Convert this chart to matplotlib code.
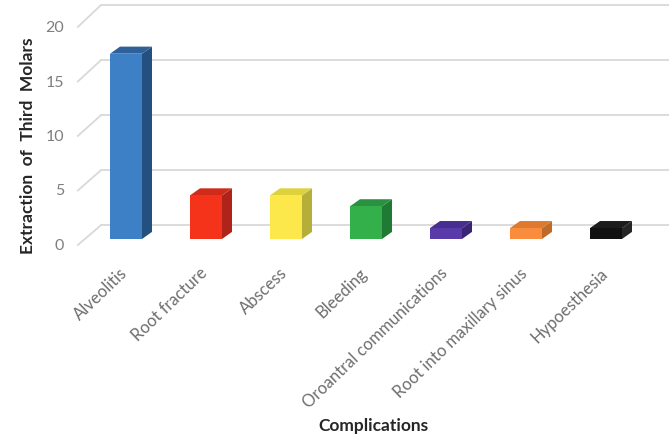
"""
3D-style column chart: complications after third molar extraction.
"""
import matplotlib
matplotlib.use("Agg")
import matplotlib.pyplot as plt
from matplotlib.patches import Polygon, Rectangle

categories = ["Alveolitis", "Root fracture", "Abscess", "Bleeding",
              "Oroantral communications", "Root into maxillary sinus",
              "Hypoesthesia"]
counts = [17, 4, 4, 3, 1, 1, 1]
yticks = [0, 5, 10, 15, 20]

front_colors = ["#3d80c6", "#f5321a", "#fde84c", "#34b04b", "#5a3aa8", "#fa8c3e", "#111111"]
top_colors = ["#2f6098", "#cf2b18", "#ddd23c", "#2a9140", "#482e8e", "#de7a30", "#1c1c1c"]
side_colors = ["#24507f", "#b0231a", "#b5ae38", "#1f7a33", "#3a2473", "#c06a2a", "#262626"]

plt.rcParams["font.family"] = ["Lato", "DejaVu Sans"]

fig = plt.figure(figsize=(6.69, 4.35), dpi=100)
ax = fig.add_axes([70 / 669, 1 - 260 / 435, 599 / 669, 260 / 435])
ax.set_xlim(-0.7, 6.7875)
ax.set_ylim(-1.835, 22.02)
ax.axis("off")

# depth of the bars and of the back wall, in data units
bw = 0.2
ddx, ddy = 0.125, 0.65
wall_x0, wall_x1 = -0.61, -0.31

grid_c = "#d9d9d9"
for v in yticks:
    y_back = v * 1.01 + 1.28
    ax.plot([wall_x0, wall_x1], [v - 0.6, y_back], color=grid_c, lw=1.3,
            solid_capstyle="butt", zorder=1)
    ax.plot([wall_x1, 6.7875], [y_back, y_back], color=grid_c, lw=1.3, zorder=1)
    ax.text(-0.775, v - 0.55, str(v), ha="right", va="center",
            fontsize=11.5, color="#7f7f7f")

for i, v in enumerate(counts):
    x0, x1 = i - bw, i + bw
    ax.add_patch(Polygon([(x1, 0), (x1 + ddx, ddy), (x1 + ddx, v + ddy), (x1, v)],
                         closed=True, fc=side_colors[i], ec="none", zorder=3))
    ax.add_patch(Polygon([(x0, v), (x1, v), (x1 + ddx, v + ddy), (x0 + ddx, v + ddy)],
                         closed=True, fc=top_colors[i], ec="none", zorder=3))
    ax.add_patch(Rectangle((x0, 0), 2 * bw, v, fc=front_colors[i], ec="none", zorder=4))
    ax.text(i - 0.08, -2.3, categories[i], rotation=44,
            rotation_mode="anchor", ha="right", va="top",
            fontsize=12, color="#6e6e6e")

fig.text(28 / 669, 1 - 146 / 435, "Extraction  of  Third  Molars", rotation=90,
         ha="center", va="center", fontsize=12.5, fontweight="bold", color="#262626")
fig.text(373 / 669, 1 - 426 / 435, "Complications", ha="center", va="center",
         fontsize=12.5, fontweight="bold", color="#262626")

fig.savefig("out.png", dpi=100)
